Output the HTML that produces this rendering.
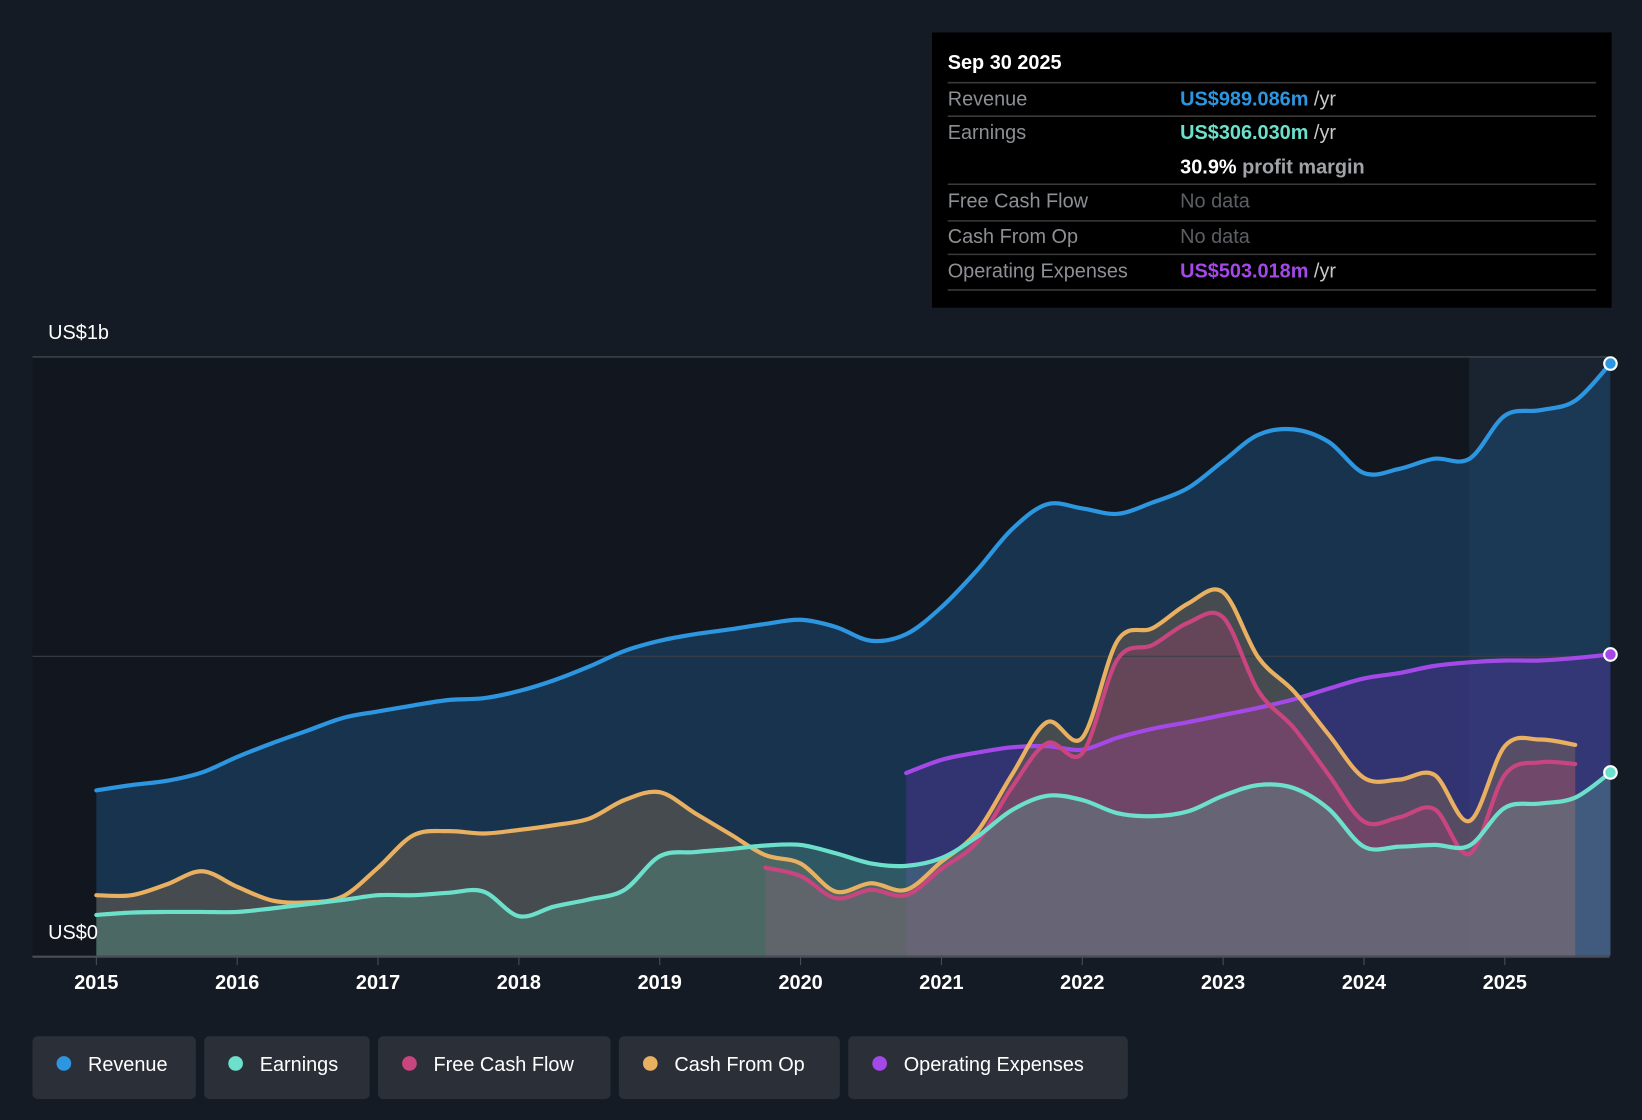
<!DOCTYPE html>
<html><head><meta charset="utf-8"><style>
html,body{margin:0;padding:0;background:#151b24;}
svg{display:block;font-family:"Liberation Sans",sans-serif;}
</style></head><body>
<svg id="chart" width="1642" height="1120" viewBox="0 0 1568 1070" preserveAspectRatio="none">
<rect x="0" y="0" width="1568" height="1070" fill="#151b24"/>
<rect x="31" y="341" width="1372" height="572" fill="#12171f"/>
<rect x="1403" y="341" width="134" height="572" fill="#1a2431"/>
<g id="areas"></g>
<line x1="31" y1="341" x2="1537" y2="341" stroke="#4a4f57" stroke-width="1"/>
<line x1="31" y1="627" x2="1537" y2="627" stroke="#3a3f47" stroke-width="1"/>
<g id="lines"></g>
<line x1="31" y1="914" x2="1537" y2="914" stroke="#4a4f57" stroke-width="2"/>
<text x="46" y="324" fill="#fff" font-size="19">US$1b</text>
<text x="46" y="897" fill="#fff" font-size="19">US$0</text>
<g id="xticks"></g>
<g>
<rect x="890" y="31" width="649" height="263" fill="#000"/>
<text x="905" y="66" fill="#fff" font-size="19" font-weight="bold">Sep 30 2025</text>
<g stroke="#3a3a3a" stroke-width="1.5">
<line x1="905" y1="79" x2="1524" y2="79"/><line x1="905" y1="111" x2="1524" y2="111"/>
<line x1="905" y1="176" x2="1524" y2="176"/><line x1="905" y1="211" x2="1524" y2="211"/>
<line x1="905" y1="243" x2="1524" y2="243"/><line x1="905" y1="277" x2="1524" y2="277"/></g>
<g font-size="19" fill="#8c8f94">
<text x="905" y="101">Revenue</text><text x="905" y="133">Earnings</text>
<text x="905" y="198">Free Cash Flow</text><text x="905" y="232">Cash From Op</text>
<text x="905" y="265">Operating Expenses</text></g>
<g font-size="19" font-weight="bold">
<text x="1127" y="101" fill="#2d96e0">US$989.086m <tspan fill="#c8c8c8" font-weight="normal">/yr</tspan></text>
<text x="1127" y="133" fill="#6de0cc">US$306.030m <tspan fill="#c8c8c8" font-weight="normal">/yr</tspan></text>
<text x="1127" y="166" fill="#fff">30.9% <tspan fill="#a0a3a8">profit margin</tspan></text>
<text x="1127" y="198" fill="#5c5f64" font-weight="normal">No data</text>
<text x="1127" y="232" fill="#5c5f64" font-weight="normal">No data</text>
<text x="1127" y="265" fill="#a449e8">US$503.018m <tspan fill="#c8c8c8" font-weight="normal">/yr</tspan></text></g>
</g>
<g id="legend"></g>
</svg>
<script>
const revT=[2015,2015.25,2015.5,2015.75,2016,2016.25,2016.5,2016.75,2017,2017.25,2017.5,2017.75,2018,2018.25,2018.5,2018.75,2019,2019.25,2019.5,2019.75,2020,2020.25,2020.5,2020.75,2021,2021.25,2021.5,2021.75,2022,2022.25,2022.5,2022.75,2023,2023.25,2023.5,2023.75,2024,2024.25,2024.5,2024.75,2025,2025.25,2025.5,2025.75];
const revenue=[276,285,292,306,332,355,376,397,408,418,427,430,442,460,483,509,526,537,545,554,561,549,526,537,582,643,712,754,747,738,757,781,826,870,879,858,806,813,830,830,902,911,927,989];
const earnings=[68,72,73,73,73,79,86,93,101,101,105,107,66,82,94,110,166,173,178,184,185,171,154,150,163,198,243,267,260,238,233,241,267,285,280,245,182,182,185,184,247,254,264,306];
const cfoT=revT.slice(0,43);
const cashFromOp=[101,101,119,141,115,92,89,99,147,201,208,204,210,218,229,260,273,238,203,168,154,107,121,110,157,206,302,390,364,526,547,588,607,498,442,369,297,294,302,225,350,361,352];
const fcfT=revT.slice(19,43);
const freeCashFlow=[147,133,96,110,101,145,189,281,355,338,495,519,556,565,442,381,302,224,231,245,170,302,323,320];
const opxT=revT.slice(23);
const opex=[305,327,339,348,350,344,364,379,390,402,414,428,446,463,472,484,490,493,493,497,503];
const years=[2015,2016,2017,2018,2019,2020,2021,2022,2023,2024,2025];
const legendItems=["Revenue","Earnings","Free Cash Flow","Cash From Op","Operating Expenses"];
const legendColors=["#2d96e0","#6de0cc","#c8457f","#e8b060","#a449e8"];

const X=t=>92+(t-2015)*134.5;
const Y=v=>913-v*0.572;
const NS="http://www.w3.org/2000/svg";
function path(ts,vs){
  const p=ts.map((t,i)=>[X(t),Y(vs[i])]);
  let d="M"+p[0][0]+","+p[0][1];
  for(let i=0;i<p.length-1;i++){
    const p0=p[Math.max(0,i-1)],p1=p[i],p2=p[i+1],p3=p[Math.min(p.length-1,i+2)];
    const c1=[p1[0]+(p2[0]-p0[0])/6,p1[1]+(p2[1]-p0[1])/6];
    const c2=[p2[0]-(p3[0]-p1[0])/6,p2[1]-(p3[1]-p1[1])/6];
    d+=" C"+c1[0]+","+c1[1]+" "+c2[0]+","+c2[1]+" "+p2[0]+","+p2[1];
  }
  return d;
}
const areas=document.getElementById('areas'),lines=document.getElementById('lines');
function series(name,ts,vs,color,fill,op,dot){
  const d=path(ts,vs);
  const a=document.createElementNS(NS,'path');
  a.setAttribute('d',d+" L"+X(ts[ts.length-1])+","+Y(0)+" L"+X(ts[0])+","+Y(0)+" Z");
  a.setAttribute('fill',fill);a.setAttribute('fill-opacity',op);
  
  
  areas.appendChild(a);
  const l=document.createElementNS(NS,'path');
  l.setAttribute('d',d);l.setAttribute('fill','none');l.setAttribute('stroke',color);l.setAttribute('stroke-width','4');l.setAttribute('stroke-linecap','round');
  
  
  lines.appendChild(l);
  if(dot){const c=document.createElementNS(NS,'circle');
    c.setAttribute('cx',X(ts[ts.length-1]));c.setAttribute('cy',Y(vs[vs.length-1]));c.setAttribute('r',6);
    c.setAttribute('fill',color);c.setAttribute('stroke','#fff');c.setAttribute('stroke-width','2');
    
    
    lines.appendChild(c);}
}
series('revenue',revT,revenue,'#2d96e0','#1d4a72',0.55,true);
series('opex',opxT,opex,'#a449e8','#5a34a8',0.4,true);
series('cash-from-op',cfoT,cashFromOp,'#e8b060','#8a7050',0.4,false);
series('free-cash-flow',fcfT,freeCashFlow,'#c8457f','#a04070',0.35,false);
series('earnings',revT,earnings,'#6de0cc','#5aa090',0.35,true);
const xt=document.getElementById('xticks');
years.forEach(y=>{
  const l=document.createElementNS(NS,'line');
  l.setAttribute('x1',X(y));l.setAttribute('x2',X(y));l.setAttribute('y1',914);l.setAttribute('y2',922);l.setAttribute('stroke','#4a4f57');
  
  
  xt.appendChild(l);
  const t=document.createElementNS(NS,'text');
  t.setAttribute('x',X(y));t.setAttribute('y',945);t.setAttribute('fill','#fff');t.setAttribute('font-size','19');t.setAttribute('font-weight','bold');t.setAttribute('text-anchor','middle');
  t.textContent=y;
  
  
  xt.appendChild(t);
});
const lg=document.getElementById('legend');
const lx=[31,195,361,591,810],lw=[156,158,222,211,267];
legendItems.forEach((n,i)=>{
  const g=document.createElementNS(NS,'g');
  
  
  g.innerHTML='<rect x="'+lx[i]+'" y="990" width="'+lw[i]+'" height="60" rx="5" fill="#2b2f38"/><circle cx="'+(lx[i]+30)+'" cy="1016" r="7" fill="'+legendColors[i]+'"/><text x="'+(lx[i]+53)+'" y="1023" fill="#fff" font-size="19">'+n+'</text>';
  lg.appendChild(g);
});
</script>
</body></html>
